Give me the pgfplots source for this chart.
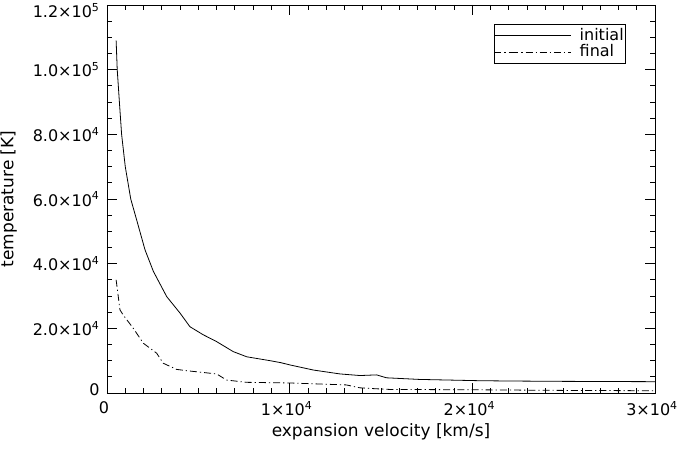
\documentclass[border=0pt]{standalone}
\usepackage{fontspec}
\setmainfont{DejaVu Sans}
\usepackage{pgfplots}
\pgfplotsset{compat=1.18}
\newcommand{\sci}[2]{#1×10\textsuperscript{\fontsize{11bp}{11bp}\selectfont #2}}
\begin{document}
\fontsize{16bp}{19bp}\selectfont
\begin{tikzpicture}
\useasboundingbox (-107bp,-57bp) rectangle (573bp,393bp);
\begin{axis}[
  at={(0,0)}, anchor=south west,
  scale only axis, width=548bp, height=388bp,
  xmin=0, xmax=30000, ymin=0, ymax=120000,
  scaled ticks=false,
  axis line style={line width=0.9bp},
  tick style={black, line width=0.8bp},
  tick align=inside,
  major tick length=10bp, minor tick length=5bp,
  xtick={0,10000,20000,30000},
  xticklabels={0,\sci{1}{4},\sci{2}{4},\sci{3}{4}},
  minor x tick num=9,
  ytick={0,20000,40000,60000,80000,100000,120000},
  yticklabels={\raisebox{-2bp}[0pt][0pt]{0},\sci{2.0}{4},\sci{4.0}{4},\sci{6.0}{4},\sci{8.0}{4},\sci{1.0}{5},\raisebox{-12.5bp}[0pt][0pt]{\sci{1.2}{5}}},
  minor y tick num=3,
  ticklabel style={font=\fontsize{16bp}{19bp}\selectfont},
  xticklabel style={yshift=-3bp, xshift=-3bp},
  yticklabel style={xshift=-2bp},
  xlabel={expansion velocity [km/s]},
  ylabel={temperature [K]},
  label style={font=\fontsize{17bp}{20bp}\selectfont},
  xlabel style={yshift=3bp},
  ylabel style={yshift=5bp},
  legend style={at={(1,1)}, anchor=north east, xshift=-29bp, yshift=-19bp,
    draw=black, line width=0.6bp, font=\fontsize{16bp}{16bp}\selectfont,
    inner xsep=0bp, inner ysep=2bp, row sep=-2bp,
    /tikz/every odd column/.append style={column sep=6bp}},
  legend cell align=left,
  legend image code/.code={\path (-17bp,0bp) -- (0bp,0bp); \draw[#1] (0bp,0bp) -- (60bp,0bp);},
]
\addplot[black, line width=0.8bp] coordinates {
(500,109000) (560,100000) (670,90700) (800,80000) (1000,70000) (1300,60000)
(1620,53600) (2080,44300) (2540,37600) (3270,29800) (4000,24700) (4540,20500)
(5270,18000) (6000,15900) (6910,12800) (7650,11200) (8920,10000) (9500,9400)
(10000,8700) (11300,7100) (12750,5900) (13850,5400) (14300,5500) (14760,5600)
(15300,4700) (17100,4200) (20400,3800) (22200,3700) (25000,3600) (30000,3500)
};
\addlegendentry{initial}
\addplot[black, line width=0.8bp, dash pattern=on 7bp off 3bp on 1.2bp off 3bp] coordinates {
(500,35000) (710,25700) (890,24100) (1440,20000) (1990,15400) (2720,12300)
(3080,9200) (3810,7300) (4360,6900) (6000,5900) (6550,4000) (7650,3300)
(10000,3100) (13100,2500) (13850,1600) (14760,1300) (15500,1100) (20000,1000)
(25000,800) (30000,700)
};
\addlegendentry{final}
\end{axis}
\end{tikzpicture}
\end{document}
